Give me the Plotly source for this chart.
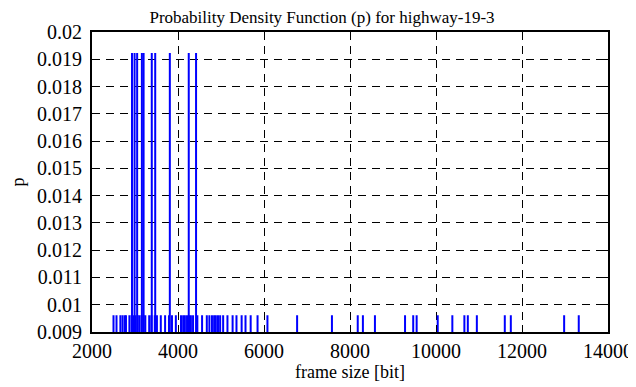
import plotly.graph_objects as go

# frame sizes [bit] with probability 2/104
tall_sizes = [2930, 2990, 3050, 3160, 3200, 3390, 3470, 3810, 4250, 4420]
# frame sizes [bit] with probability 1/104
short_sizes = [2500, 2570, 2660, 2710, 2760, 2790, 2870, 2920, 2970, 3010, 3060,
               3100, 3150, 3200, 3240, 3330, 3380, 3460, 3510, 3600, 3700, 3790,
               3860, 3950, 4070, 4120, 4160, 4210, 4260, 4300, 4350, 4450, 4560,
               4670, 4730, 4790, 4840, 4880, 4930, 4980, 5050, 5150, 5270, 5360,
               5480, 5570, 5690, 5850, 6080, 6770, 7580, 8180, 8300, 8580, 9280,
               9470, 9550, 10040, 10380, 10660, 10740, 10950, 11600, 11740, 12980,
               13320]
p_tall = 2 / 104
p_short = 1 / 104

x_ticks = [2000, 4000, 6000, 8000, 10000, 12000, 14000]
x_ticktext = ["2000", "4000", "6000", "8000", "10000", "12000", "14000"]
y_ticks = [0.009, 0.010, 0.011, 0.012, 0.013, 0.014, 0.015, 0.016, 0.017, 0.018, 0.019, 0.020]
y_ticktext = ["0.009", "0.01", "0.011", "0.012", "0.013", "0.014", "0.015",
              "0.016", "0.017", "0.018", "0.019", "0.02"]

sizes = short_sizes + tall_sizes
probs = [p_short] * len(short_sizes) + [p_tall] * len(tall_sizes)

xs, ys = [], []
for s, p in zip(sizes, probs):
    xs += [s, s, None]
    ys += [0, p, None]

fig = go.Figure()
fig.add_trace(go.Scatter(x=xs, y=ys, mode="lines",
                         line=dict(color="#0000ff", width=2),
                         connectgaps=False, showlegend=False, hoverinfo="skip"))

font = "Liberation Serif"
axis_common = dict(showline=True, linecolor="black", linewidth=2, mirror="allticks",
                   ticks="inside", ticklen=7, tickcolor="black", tickwidth=1,
                   showgrid=True, gridcolor="black", gridwidth=1, griddash="8px,6px",
                   zeroline=False, automargin=False,
                   tickfont=dict(family=font, size=20, color="black"))

# the page body adds an 8px offset, so the figure is sized 628x379
W, H = 628, 379
fig.update_layout(
    width=W, height=H,
    margin=dict(l=84, r=28, t=24, b=55),
    paper_bgcolor="white", plot_bgcolor="white",
    font=dict(family=font, size=18, color="black"),
    title=dict(text="Probability Density Function (p) for highway-19-3",
               x=0.5, xanchor="center", y=1 - 9 / H, yanchor="middle",
               font=dict(family=font, size=17, color="black")),
    xaxis=dict(range=[2000, 14000], tickvals=x_ticks, ticktext=x_ticktext,
               title=dict(text="frame size [bit]", standoff=2,
                          font=dict(family=font, size=18)),
               **axis_common),
    yaxis=dict(range=[0.009, 0.02], tickvals=y_ticks, ticktext=y_ticktext,
               ticklabelstandoff=4,
               title=dict(text="p", standoff=26, font=dict(family=font, size=18)),
               **axis_common),
)

fig.write_html("out.html")
